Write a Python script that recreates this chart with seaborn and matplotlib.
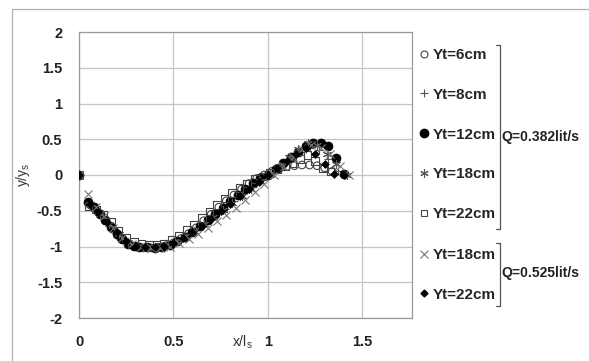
import matplotlib
matplotlib.use("Agg")
import matplotlib.pyplot as plt
import seaborn as sns
import pandas as pd
from matplotlib.lines import Line2D

# Q=0.382 lit/s series
x6 = [0, 0.06, 0.10, 0.14, 0.18, 0.22, 0.26, 0.30, 0.34, 0.38, 0.42, 0.46, 0.50, 0.54, 0.58, 0.62, 0.66,
      0.70, 0.74, 0.78, 0.82, 0.86, 0.90, 0.94, 0.98, 1.02, 1.06, 1.10, 1.14, 1.18, 1.22, 1.26, 1.30, 1.34]
y6 = [0, -0.42, -0.52, -0.64, -0.76, -0.88, -0.96, -1.00, -1.02, -1.02, -1.01, -0.99, -0.95, -0.89, -0.82,
      -0.74, -0.64, -0.55, -0.45, -0.36, -0.28, -0.20, -0.12, -0.05, 0.0, 0.05, 0.09, 0.12, 0.13, 0.14,
      0.14, 0.13, 0.10, 0.05]

x8 = [0, 0.07, 0.12, 0.17, 0.22, 0.27, 0.32, 0.37, 0.42, 0.47, 0.52, 0.57, 0.62, 0.67, 0.72, 0.77, 0.82,
      0.87, 0.92, 0.97, 1.02, 1.07, 1.12, 1.17, 1.22, 1.27, 1.32, 1.37]
y8 = [0, -0.45, -0.58, -0.72, -0.86, -0.96, -1.00, -1.01, -1.00, -0.97, -0.92, -0.85, -0.76, -0.67, -0.57,
      -0.47, -0.37, -0.27, -0.17, -0.07, 0.03, 0.12, 0.22, 0.32, 0.38, 0.35, 0.22, 0.05]

x12 = [0, 0.05, 0.08, 0.11, 0.14, 0.17, 0.20, 0.23, 0.26, 0.29, 0.32, 0.36, 0.40, 0.44, 0.48, 0.52, 0.56,
       0.60, 0.64, 0.68, 0.72, 0.76, 0.80, 0.84, 0.88, 0.92, 0.96, 1.00, 1.04, 1.08, 1.12, 1.16, 1.20,
       1.24, 1.28, 1.32, 1.36, 1.40]
y12 = [0, -0.38, -0.45, -0.55, -0.63, -0.73, -0.82, -0.90, -0.97, -0.99, -1.00, -1.01, -1.02, -1.01, -0.98,
       -0.93, -0.87, -0.80, -0.72, -0.63, -0.55, -0.46, -0.37, -0.28, -0.19, -0.11, -0.04, 0.0, 0.08, 0.17,
       0.25, 0.32, 0.40, 0.45, 0.45, 0.40, 0.24, 0.01]

x18 = [0, 0.06, 0.11, 0.16, 0.21, 0.26, 0.31, 0.36, 0.41, 0.46, 0.51, 0.56, 0.61, 0.66, 0.71, 0.76, 0.81,
       0.86, 0.91, 0.96, 1.01, 1.06, 1.11, 1.16, 1.21, 1.26, 1.31, 1.36, 1.42]
y18 = [0, -0.40, -0.55, -0.68, -0.82, -0.94, -0.99, -1.01, -1.01, -0.98, -0.93, -0.86, -0.78, -0.69, -0.59,
       -0.49, -0.39, -0.29, -0.19, -0.09, 0.02, 0.13, 0.25, 0.36, 0.45, 0.42, 0.30, 0.15, 0.0]

x22 = [0, 0.05, 0.09, 0.13, 0.17, 0.21, 0.25, 0.29, 0.33, 0.37, 0.41, 0.45, 0.49, 0.53, 0.57, 0.61, 0.65,
       0.69, 0.73, 0.77, 0.81, 0.85, 0.89, 0.93, 0.97, 1.01, 1.05, 1.09, 1.13, 1.17, 1.21, 1.25, 1.29, 1.33]
y22 = [0, -0.44, -0.48, -0.55, -0.66, -0.78, -0.88, -0.93, -0.96, -0.98, -0.98, -0.96, -0.91, -0.85, -0.77,
       -0.69, -0.60, -0.51, -0.42, -0.33, -0.25, -0.18, -0.12, -0.06, -0.02, 0.03, 0.08, 0.12, 0.16, 0.22,
       0.28, 0.20, 0.10, 0.05]

# Q=0.525 lit/s series
x18b = [0, 0.05, 0.09, 0.13, 0.18, 0.23, 0.28, 0.33, 0.38, 0.43, 0.48, 0.53, 0.58, 0.63, 0.68, 0.73, 0.78,
        0.83, 0.88, 0.93, 0.98, 1.03, 1.08, 1.13, 1.18, 1.23, 1.28, 1.33, 1.38, 1.43]
y18b = [0, -0.27, -0.45, -0.58, -0.74, -0.88, -0.97, -1.00, -1.02, -1.02, -1.00, -0.95, -0.89, -0.82, -0.74,
        -0.65, -0.56, -0.46, -0.35, -0.24, -0.12, 0.0, 0.12, 0.25, 0.36, 0.42, 0.38, 0.30, 0.12, 0.0]

x22b = [0, 0.06, 0.10, 0.15, 0.20, 0.25, 0.30, 0.35, 0.40, 0.45, 0.50, 0.55, 0.60, 0.65, 0.70, 0.75, 0.80,
        0.85, 0.90, 0.95, 1.00, 1.05, 1.10, 1.15, 1.20, 1.25, 1.30, 1.35, 1.40]
y22b = [0, -0.40, -0.52, -0.66, -0.80, -0.93, -0.99, -1.01, -1.01, -0.99, -0.95, -0.88, -0.80, -0.71, -0.61,
        -0.50, -0.40, -0.30, -0.20, -0.10, 0.0, 0.10, 0.20, 0.30, 0.38, 0.30, 0.15, 0.02, 0.0]

labels1 = ["Yt=6cm", "Yt=8cm", "Yt=12cm", "Yt=18cm", "Yt=22cm"]
labels2 = ["Yt=18cm", "Yt=22cm"]
group_labels = ["Q=0.382lit/s", "Q=0.525lit/s"]
xticks = [0, 0.5, 1, 1.5]
yticks = [-2, -1.5, -1, -0.5, 0, 0.5, 1, 1.5, 2]

sns.set_style("white")
plt.rcParams["font.family"] = ["Liberation Sans", "DejaVu Sans"]

fig = plt.figure(figsize=(5.89, 3.61), dpi=100)
ax = fig.add_axes([79/589, 43/361, 333/589, 286/361])

ast = (6, 2, 0)
styles = [
    (x6, y6, dict(marker="o", s=30, fc="none", ec="#444444", linewidth=0.8)),
    (x8, y8, dict(marker="+", s=34, color="#555555", linewidth=0.8)),
    (x12, y12, dict(marker="o", s=42, color="black", ec="black", linewidth=0.5)),
    (x18, y18, dict(marker=ast, s=34, color="#555555", linewidth=0.8)),
    (x22, y22, dict(marker="s", s=30, fc="none", ec="#444444", linewidth=0.8)),
    (x18b, y18b, dict(marker="x", s=34, color="#777777", linewidth=0.8)),
    (x22b, y22b, dict(marker="D", s=16, color="black", ec="black", linewidth=0.5)),
]
for xs, ys, kw in styles:
    sns.scatterplot(x=xs, y=ys, ax=ax, legend=False, zorder=3, **kw)

ax.set_xlim(0, 1.762)
ax.set_ylim(-2, 2)
ax.set_xticks(xticks)
ax.set_xticklabels(["0", "0.5", "1", "1.5"])
ax.set_yticks(yticks)
ax.set_yticklabels(["-2", "-1.5", "-1", "-0.5", "0", "0.5", "1", "1.5", "2"])
ax.grid(True, color="#c4c4c4", linewidth=0.9)
for sp in ax.spines.values():
    sp.set_color("#9a9a9a")
    sp.set_linewidth(0.9)
ax.tick_params(axis="x", length=3, color="#9a9a9a", pad=9, labelsize=10.5)
ax.tick_params(axis="y", length=2, color="#9a9a9a", pad=10, labelsize=10.5)
for t in ax.get_xticklabels() + ax.get_yticklabels():
    t.set_fontweight("bold")
    t.set_color("#222222")

ax.set_xlabel("x/l$_\\mathregular{s}$", fontsize=10, color="#333333")
ax.xaxis.set_label_coords(0.49, -0.055)
ax.set_ylabel("y/y$_\\mathregular{s}$", fontsize=10, color="#333333")
ax.yaxis.set_label_coords(-0.14, 0.5)

# legends
h1 = [Line2D([], [], ls="none", marker="o", ms=5, mfc="none", mec="#444444", mew=0.8),
      Line2D([], [], ls="none", marker="+", ms=6, color="#555555", mew=0.8),
      Line2D([], [], ls="none", marker="o", ms=6, color="black"),
      Line2D([], [], ls="none", marker=ast, ms=6, color="#555555", mew=0.8),
      Line2D([], [], ls="none", marker="s", ms=5, mfc="none", mec="#444444", mew=0.8)]
h2 = [Line2D([], [], ls="none", marker="x", ms=6, color="#777777", mew=0.8),
      Line2D([], [], ls="none", marker="D", ms=3.5, color="black")]
leg_kw = dict(frameon=False, handlelength=0.6, handletextpad=0.3, borderpad=0, borderaxespad=0,
              labelspacing=1.69, prop={"weight": "bold", "size": 11})
leg1 = fig.legend(h1, labels1, loc="upper left", bbox_to_anchor=(419/589, 1 - 48/361), **leg_kw)
leg2 = fig.legend(h2, labels2, loc="upper left", bbox_to_anchor=(419/589, 1 - 248/361), **leg_kw)

# brackets
def bracket(y_top, y_bot, label, y_lab):
    xb = 500/589
    fig.add_artist(Line2D([xb, xb], [1 - y_top/361, 1 - y_bot/361], color="#555555", lw=0.9))
    for yy in (y_top, y_bot):
        fig.add_artist(Line2D([xb - 4/589, xb], [1 - yy/361, 1 - yy/361], color="#555555", lw=0.9))
    fig.text(xb + 1/589, 1 - y_lab/361, label, fontsize=10, fontweight="bold", color="#222222",
             ha="left", va="center")

bracket(45, 229, group_labels[0], 137)
bracket(243, 306, group_labels[1], 273)

# outer frame
fig.add_artist(Line2D([12/589, 1], [1 - 9/361, 1 - 9/361], color="#b0b0b0", lw=0.9))
fig.add_artist(Line2D([12/589, 12/589], [0, 1 - 9/361], color="#b0b0b0", lw=0.9))

fig.savefig("out.png", dpi=100)
